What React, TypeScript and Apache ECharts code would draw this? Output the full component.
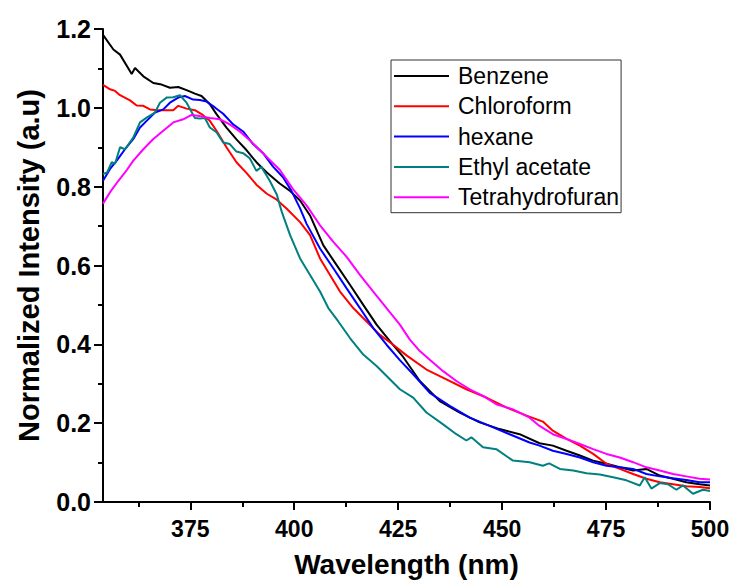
import React, { useEffect, useRef } from "react";
import * as echarts from "echarts";

const seriesNames = ["Benzene", "Chloroform", "hexane", "Ethyl acetate", "Tetrahydrofuran"];
const seriesColors = ["#000000", "#ff0000", "#0000ff", "#008080", "#ff00ff"];

const benzeneX = [354, 356.5, 358.1, 360.9, 361.7, 363.7, 366.1, 368.1, 370.1, 372.1, 374.1, 376.1, 377.7, 379.7, 381.3, 383.7, 386.1, 388.5, 390.9, 393.4, 396.5, 398.9, 401.4, 403.8, 407.0, 410.2, 413.4, 416.6, 419.8, 423.0, 426.2, 430.2, 435.0, 439.8, 444.6, 449.4, 454.2, 459.0, 462.2, 465.5, 468.7, 471.9, 475.1, 478.3, 481.5, 484.7, 487.9, 491.1, 494.3, 497.5, 500];
const benzeneY = [1.185, 1.148, 1.135, 1.086, 1.101, 1.08, 1.063, 1.059, 1.051, 1.053, 1.045, 1.036, 1.03, 1.009, 0.984, 0.95, 0.92, 0.893, 0.862, 0.836, 0.808, 0.79, 0.765, 0.727, 0.651, 0.601, 0.551, 0.5, 0.45, 0.408, 0.368, 0.307, 0.256, 0.227, 0.202, 0.185, 0.172, 0.149, 0.143, 0.13, 0.118, 0.105, 0.097, 0.088, 0.08, 0.084, 0.067, 0.059, 0.05, 0.045, 0.042];

const chloroformX = [354, 355.7, 356.9, 358.1, 360.5, 362.1, 363.7, 365.3, 367.3, 369.3, 370.9, 372.1, 374.1, 376.1, 377.7, 379.7, 381.3, 383.7, 386.1, 388.5, 390.9, 393.4, 395.8, 398.2, 401.4, 403.8, 406.2, 408.6, 411.0, 414.2, 417.4, 420.6, 423.8, 427.0, 431.8, 436.6, 441.4, 446.2, 451.0, 455.9, 459.8, 462.2, 465.5, 468.7, 471.9, 475.1, 478.3, 481.5, 484.7, 487.9, 491.1, 494.3, 497.5, 500];
const chloroformY = [1.058, 1.047, 1.043, 1.032, 1.019, 1.006, 1.005, 0.996, 0.994, 0.994, 0.994, 1.005, 0.998, 0.994, 0.984, 0.967, 0.942, 0.9, 0.862, 0.835, 0.805, 0.782, 0.767, 0.744, 0.71, 0.677, 0.618, 0.576, 0.534, 0.492, 0.458, 0.424, 0.399, 0.372, 0.336, 0.311, 0.286, 0.265, 0.24, 0.219, 0.204, 0.181, 0.16, 0.143, 0.122, 0.097, 0.084, 0.071, 0.059, 0.05, 0.045, 0.04, 0.038, 0.035];

const hexaneX = [354, 355.7, 357.3, 359.3, 361.3, 362.9, 364.5, 366.5, 368.5, 370.1, 372.1, 373.7, 375.7, 377.3, 378.9, 380.9, 382.9, 385.3, 387.7, 390.1, 392.5, 394.9, 397.3, 399.3, 401.4, 403.0, 406.2, 409.4, 412.6, 415.8, 419.0, 422.2, 425.4, 428.6, 432.6, 437.4, 442.2, 447.0, 451.8, 456.6, 459.0, 462.2, 465.5, 468.7, 471.9, 475.1, 478.3, 481.5, 484.7, 487.9, 491.1, 494.3, 497.5, 500];
const hexaneY = [0.815, 0.845, 0.866, 0.895, 0.921, 0.95, 0.967, 0.988, 0.996, 1.013, 1.026, 1.03, 1.021, 1.02, 1.016, 1.001, 0.985, 0.958, 0.94, 0.908, 0.885, 0.851, 0.824, 0.79, 0.745, 0.705, 0.643, 0.593, 0.542, 0.492, 0.441, 0.399, 0.36, 0.324, 0.277, 0.244, 0.214, 0.193, 0.172, 0.151, 0.143, 0.13, 0.122, 0.113, 0.101, 0.092, 0.088, 0.084, 0.071, 0.065, 0.06, 0.056, 0.05, 0.05];

const ethylX = [354, 355, 356.1, 356.9, 358.1, 359.3, 361.3, 362.9, 364.5, 366.5, 367.7, 369.3, 370.9, 372.5, 374.1, 376.1, 377.3, 378.5, 379.7, 381.3, 382.9, 384.5, 386.1, 387.7, 389.3, 390.9, 392.1, 394.1, 395.8, 397.0, 399.0, 401.4, 403.8, 406.2, 408.2, 410.6, 413.4, 416.6, 419.8, 425.4, 428.6, 431.8, 435.8, 439.0, 441.4, 442.6, 445.4, 448.6, 452.6, 456.6, 459.8, 461.3, 463.9, 467.1, 470.3, 473.5, 476.7, 479.9, 483.1, 484.3, 485.9, 487.9, 489.9, 491.9, 493.5, 495.9, 498.3, 500];
const ethylY = [0.832, 0.836, 0.862, 0.858, 0.9, 0.895, 0.925, 0.963, 0.975, 0.988, 1.013, 1.026, 1.027, 1.032, 1.013, 0.974, 0.973, 0.974, 0.95, 0.938, 0.912, 0.908, 0.889, 0.885, 0.872, 0.84, 0.85, 0.815, 0.78, 0.736, 0.677, 0.618, 0.576, 0.534, 0.492, 0.458, 0.416, 0.374, 0.345, 0.286, 0.265, 0.227, 0.197, 0.172, 0.156, 0.164, 0.139, 0.134, 0.105, 0.101, 0.092, 0.098, 0.084, 0.08, 0.073, 0.07, 0.063, 0.055, 0.042, 0.063, 0.034, 0.048, 0.045, 0.031, 0.042, 0.021, 0.031, 0.028];

const thfX = [354, 355.7, 357.7, 359.3, 361.3, 363.7, 366.1, 368.5, 370.9, 373.3, 375.3, 377.3, 379.7, 382.1, 384.5, 386.9, 389.3, 391.7, 394.1, 396.5, 399.7, 403.0, 406.2, 409.4, 412.6, 415.8, 419.0, 422.2, 425.4, 427.8, 430.2, 432.6, 435.8, 439.0, 442.2, 445.4, 448.6, 452.6, 456.6, 459.0, 462.2, 465.5, 468.7, 471.9, 475.1, 478.3, 481.5, 484.7, 487.9, 491.1, 494.3, 497.5, 500];
const thfY = [0.757, 0.786, 0.815, 0.836, 0.866, 0.895, 0.921, 0.942, 0.963, 0.971, 0.982, 0.979, 0.974, 0.971, 0.958, 0.94, 0.918, 0.893, 0.868, 0.843, 0.794, 0.752, 0.702, 0.66, 0.622, 0.576, 0.534, 0.492, 0.45, 0.412, 0.383, 0.361, 0.332, 0.307, 0.286, 0.269, 0.248, 0.235, 0.214, 0.193, 0.172, 0.16, 0.147, 0.134, 0.122, 0.113, 0.101, 0.088, 0.08, 0.071, 0.065, 0.059, 0.057];

const xMajorTicks = [375, 400, 425, 450, 475, 500];
const xMinorTicks = [362.5, 387.5, 412.5, 437.5, 462.5, 487.5];

const allX = [benzeneX, chloroformX, hexaneX, ethylX, thfX];
const allY = [benzeneY, chloroformY, hexaneY, ethylY, thfY];

const FONT = "'Liberation Sans', Arial, sans-serif";

export default function App() {
  const ref = useRef<HTMLDivElement>(null);
  useEffect(() => {
    document.body.style.margin = "0";
    if (!ref.current) return;
    const chart = echarts.init(ref.current, null, { renderer: "svg" });
    const series = seriesNames.map((name, i) => ({
      name,
      type: "line",
      xAxisIndex: 0,
      yAxisIndex: 0,
      data: allX[i].map((x, j) => [x, allY[i][j]]),
      showSymbol: false,
      symbol: "none",
      lineStyle: { color: seriesColors[i], width: 2 },
      itemStyle: { color: seriesColors[i] },
      z: 2 + i,
    }));
    chart.setOption({
      animation: false,
      backgroundColor: "#ffffff",
      grid: { left: 103, right: 26, top: 29, bottom: 78, containLabel: false },
      legend: {
        show: true,
        orient: "vertical",
        left: 391,
        top: 60,
        data: seriesNames,
        icon: "rect",
        itemWidth: 55,
        itemHeight: 2,
        itemGap: 7.3,
        padding: [4.5, 2, 4, 3],
        borderColor: "#333333",
        borderWidth: 1,
        backgroundColor: "#ffffff",
        textStyle: {
          fontFamily: FONT,
          fontSize: 23,
          lineHeight: 21,
          color: "#000000",
          padding: [0, 0, 0, 4],
        },
      },
      xAxis: [
        {
          type: "value",
          min: 354,
          max: 500,
          position: "bottom",
          name: "Wavelength (nm)",
          nameLocation: "middle",
          nameGap: 48,
          nameTextStyle: { fontFamily: FONT, fontWeight: "bold", fontSize: 28, color: "#000" },
          axisLine: { show: true, onZero: false, lineStyle: { color: "#000", width: 2 } },
          axisTick: { show: true, inside: false, length: 8, customValues: xMajorTicks, lineStyle: { color: "#000", width: 2 } },
          axisLabel: {
            show: true,
            customValues: xMajorTicks,
            margin: 15,
            fontFamily: FONT,
            fontWeight: "bold",
            fontSize: 23,
            color: "#000",
          },
          splitLine: { show: false },
        },
        {
          type: "value",
          min: 354,
          max: 500,
          position: "bottom",
          axisLine: { show: false },
          axisTick: { show: true, inside: false, length: 5, customValues: xMinorTicks, lineStyle: { color: "#000", width: 2 } },
          axisLabel: { show: false },
          splitLine: { show: false },
        },
      ],
      yAxis: {
        type: "value",
        min: 0,
        max: 1.2,
        interval: 0.2,
        name: "Normalized Intensity (a.u)",
        nameLocation: "middle",
        nameGap: 60,
        nameTextStyle: { fontFamily: FONT, fontWeight: "bold", fontSize: 29, color: "#000" },
        axisLine: { show: true, onZero: false, lineStyle: { color: "#000", width: 2 } },
        axisTick: { show: true, inside: false, length: 9, lineStyle: { color: "#000", width: 2 } },
        minorTick: { show: true, splitNumber: 2, length: 5, lineStyle: { color: "#000", width: 2 } },
        axisLabel: {
          margin: 12,
          fontFamily: FONT,
          fontWeight: "bold",
          fontSize: 25,
          color: "#000",
          formatter: (v: number) => v.toFixed(1),
        },
        splitLine: { show: false },
        minorSplitLine: { show: false },
      },
      series,
    });
    return () => chart.dispose();
  }, []);
  return <div ref={ref} style={{ width: 736, height: 583 }} />;
}
